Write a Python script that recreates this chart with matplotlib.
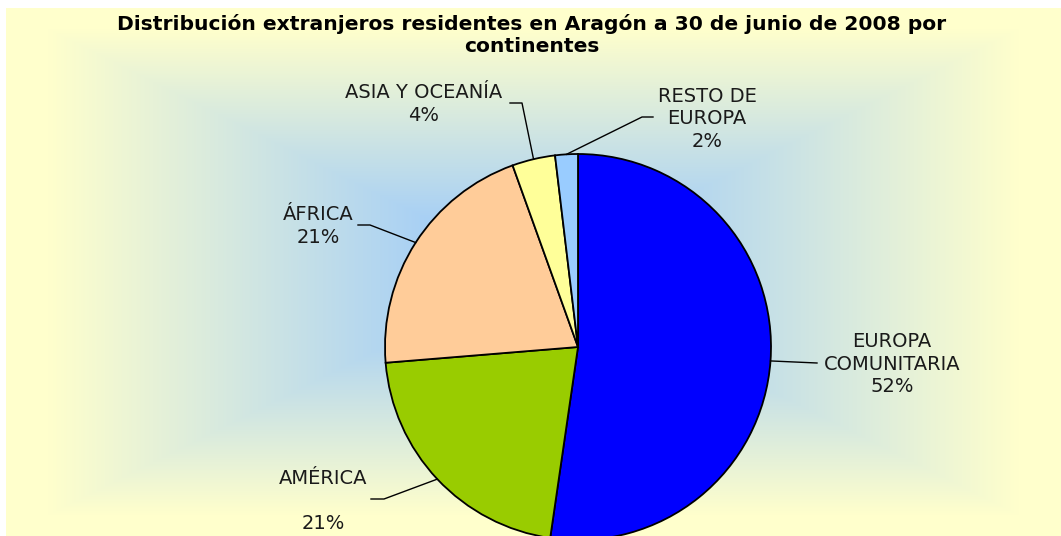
import numpy as np
import matplotlib
matplotlib.use("Agg")
import matplotlib.pyplot as plt

# datos
categorias = ["EUROPA\nCOMUNITARIA", "AMÉRICA", "ÁFRICA", "ASIA Y OCEANÍA", "RESTO DE\nEUROPA"]
valores = [52.3, 21.4, 20.8, 3.6, 1.9]
colores = ["#0000FF", "#99CC00", "#FFCC99", "#FFFF99", "#99CCFF"]

titulo = "Distribución extranjeros residentes en Aragón a 30 de junio de 2008 por\ncontinentes"

W, H = 1061, 536


def Y(y):
    # pasar de y en pixeles desde arriba a coordenadas del eje
    return H - y


fig = plt.figure(figsize=(W / 100, H / 100), dpi=100)
fig.patch.set_facecolor("white")
ax = fig.add_axes([0, 0, 1, 1])

# fondo degradado desde el centro (rectangular)
x0, x1, y0, y1 = 6, W, 8, H
xs = np.arange(x0, x1) + 0.5
ys = np.arange(y0, y1) + 0.5
gx, gy = np.meshgrid(xs, ys)
cx, cy = (x0 + x1) / 2, (y0 + y1) / 2
t = np.maximum(np.abs(gx - cx) / ((x1 - x0) / 2), np.abs(gy - cy) / ((y1 - y0) / 2))
s = np.clip((t - 0.2) / 0.72, 0, 1)[..., None]
azul = np.array([168, 208, 245]) / 255
amarillo = np.array([255, 255, 204]) / 255
fondo = azul * (1 - s) + amarillo * s
ax.imshow(fondo, extent=(x0, x1, Y(y1), Y(y0)), origin="upper", aspect="auto",
          interpolation="bilinear", zorder=0)

# tarta
centro = (578, Y(347))
radio = 193
wedges, _ = ax.pie(valores, colors=colores, startangle=90, counterclock=False,
                   center=centro, radius=radio, frame=True,
                   wedgeprops=dict(edgecolor="black", linewidth=1.3))
for w in wedges:
    w.set_zorder(2)

# etiquetas y lineas guia
pos_texto = [(892, 364), (323, 501), (318, 226), (424, 104), (707, 119)]
guias = [
    [(817, 363)],
    [(384, 499), (371, 499)],
    [(370, 225), (358, 225)],
    [(522, 103), (510, 103)],
    [(642, 117), (653, 117)],
]

for w, cat, v, (tx, ty), guia in zip(wedges, categorias, valores, pos_texto, guias):
    ang = np.deg2rad((w.theta1 + w.theta2) / 2)
    px = centro[0] + radio * np.cos(ang)
    py = centro[1] + radio * np.sin(ang)
    xx = [px] + [g[0] for g in guia]
    yy = [py] + [Y(g[1]) for g in guia]
    ax.plot(xx, yy, color="black", linewidth=1, zorder=3)
    pct = f"{v:.0f}%"
    if cat == "AMÉRICA":
        texto = cat + "\n\n" + pct
    else:
        texto = cat + "\n" + pct
    ax.text(tx, Y(ty), texto, ha="center", va="center", fontsize=14,
            linespacing=1.22, color="#1a1a1a", zorder=4)

ax.text(532, Y(35), titulo, ha="center", va="center", fontsize=14.6,
        fontweight="bold", linespacing=1.15, zorder=4)

ax.set_xlim(0, W)
ax.set_ylim(0, H)
ax.set_aspect("auto")
ax.axis("off")

fig.savefig("out.png", dpi=100)
